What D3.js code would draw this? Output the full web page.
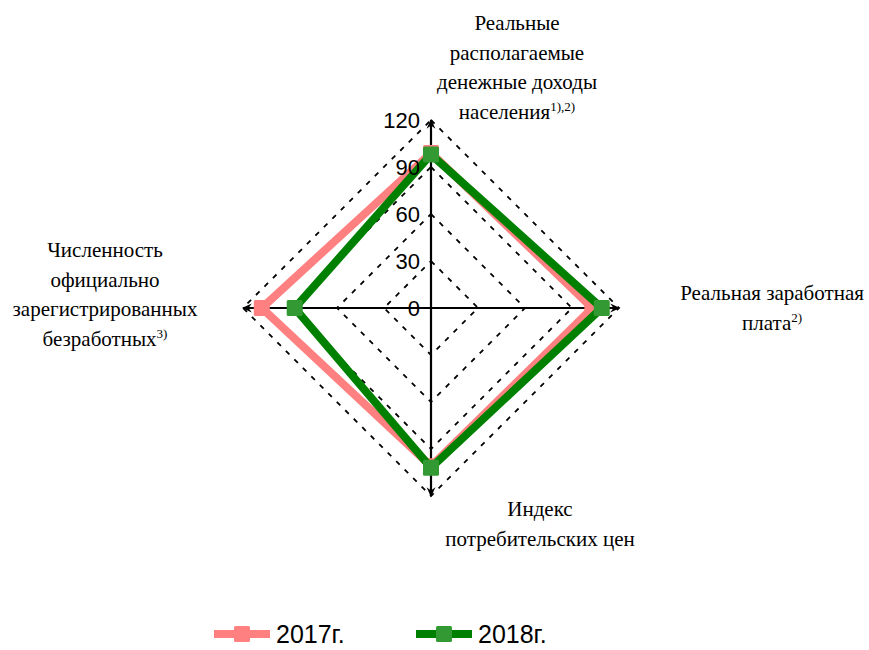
<!DOCTYPE html>
<html>
<head>
<meta charset="utf-8">
<script src="https://cdn.jsdelivr.net/npm/d3@7"></script>
<style>
    body { margin: 0; background: #fff; }
</style>
</head>
<body>
<svg width="869" height="650"></svg>
<script>
(function (d3) {
    'use strict';

    var axes = ['income', 'wage', 'cpi', 'unemployed'];
    var years = ['2017г.', '2018г.'];
    var values2017 = [99, 103, 101, 108];
    var values2018 = [98, 109, 102, 87];
    var ticks = [0, 30, 60, 90, 120];

    var width = 869, height = 650,
        cx = 431, cy = 308, radius = 188;

    var serif = 'Liberation Serif',
        sans = 'Liberation Sans';

    var colors = { line: ['#ff8080', '#008000'], marker: ['#ff8080', '#339933'] };

    var r = d3.scaleLinear().domain([0, 120]).range([0, radius]);
    var angle = d3.scalePoint().domain(axes.concat(['_'])).range([0, 2 * Math.PI]);

    var svg = d3.select('svg').attr('width', width).attr('height', height);
    var g = svg.append('g').attr('transform', 'translate(' + cx + ',' + cy + ')');

    function pt(a, v) {
        var t = angle(a);
        return [r(v) * Math.sin(t), -r(v) * Math.cos(t)];
    }

    // dashed grid diamonds
    ticks.slice(1).forEach(function (t) {
        g.append('path')
            .attr('d', d3.line().curve(d3.curveLinearClosed)(axes.map(function (a) { return pt(a, t); })))
            .attr('fill', 'none')
            .attr('stroke', '#000')
            .attr('stroke-width', 1.8)
            .attr('stroke-dasharray', '5,7');
    });

    var defs = svg.append('defs');
    defs.append('marker')
        .attr('id', 'arrow')
        .attr('viewBox', '0 0 10 10')
        .attr('refX', 8).attr('refY', 5)
        .attr('markerWidth', 5).attr('markerHeight', 6)
        .attr('orient', 'auto')
        .append('path').attr('d', 'M0,1 L9,5 L0,9 L3,5 Z').attr('fill', '#000');

    // axis lines with arrows
    axes.forEach(function (a) {
        var e = pt(a, 120);
        g.append('line')
            .attr('x1', 0).attr('y1', 0)
            .attr('x2', e[0]).attr('y2', e[1])
            .attr('stroke', '#000').attr('stroke-width', 2.2)
            .attr('marker-end', 'url(#arrow)');
    });

    // series
    [values2017, values2018].forEach(function (vals, i) {
        var pts = axes.map(function (a, j) { return pt(a, vals[j]); });
        g.append('path')
            .attr('d', d3.line().curve(d3.curveLinearClosed)(pts))
            .attr('fill', 'none')
            .attr('stroke', colors.line[i])
            .attr('stroke-width', 8)
            .attr('stroke-linejoin', 'miter');
        g.selectAll('.m' + i)
            .data(pts)
            .enter()
            .append('rect')
            .attr('x', function (d) { return d[0] - 8; })
            .attr('y', function (d) { return d[1] - 8; })
            .attr('width', 16).attr('height', 16)
            .attr('rx', 1.5)
            .attr('fill', colors.marker[i]);
    });

    // tick labels on the vertical axis (drawn over the series)
    g.selectAll('.tick-label')
        .data(ticks)
        .enter()
        .append('text')
        .attr('class', 'tick-label')
        .attr('x', -11)
        .attr('y', function (d) { return -r(d); })
        .attr('dy', '0.35em')
        .attr('text-anchor', 'end')
        .attr('font-family', sans)
        .attr('font-size', '22px')
        .text(function (d) { return d; });

    // category labels
    var labels = [
        { x: 517, y: 30, lines: ['Реальные', 'располагаемые', 'денежные доходы', 'населения'], sup: '1),2)' },
        { x: 772, y: 300, lines: ['Реальная заработная', 'плата'], sup: '2)' },
        { x: 540, y: 516, lines: ['Индекс', 'потребительских цен'], sup: '' },
        { x: 105, y: 257, lines: ['Численность', 'официально', 'зарегистрированных', 'безработных'], sup: '3)' }
    ];

    labels.forEach(function (l) {
        var t = svg.append('text')
            .attr('font-family', serif)
            .attr('font-size', '21px')
            .attr('fill', '#000')
            .attr('text-anchor', 'middle');
        l.lines.forEach(function (line, i) {
            t.append('tspan')
                .attr('x', l.x)
                .attr('y', l.y + i * 29.5)
                .text(line);
            if (i === l.lines.length - 1 && l.sup) {
                t.append('tspan')
                    .attr('dy', '-0.55em')
                    .attr('font-size', '13px')
                    .text(l.sup);
            }
        });
    });

    // legend
    var legend = svg.selectAll('.legend')
        .data(years)
        .enter()
        .append('g')
        .attr('transform', function (d, i) { return 'translate(' + (214 + i * 202) + ',634)'; });

    legend.append('line')
        .attr('x1', 0).attr('x2', 56)
        .attr('stroke', function (d, i) { return colors.line[i]; })
        .attr('stroke-width', 8);
    legend.append('rect')
        .attr('x', 20).attr('y', -8)
        .attr('width', 16).attr('height', 16)
        .attr('rx', 1.5)
        .attr('fill', function (d, i) { return colors.marker[i]; });
    legend.append('text')
        .attr('x', 62)
        .attr('dy', '0.36em')
        .attr('font-family', sans)
        .attr('font-size', '25px')
        .text(function (d) { return d; });

})(window.d3);
</script>
</body>
</html>
